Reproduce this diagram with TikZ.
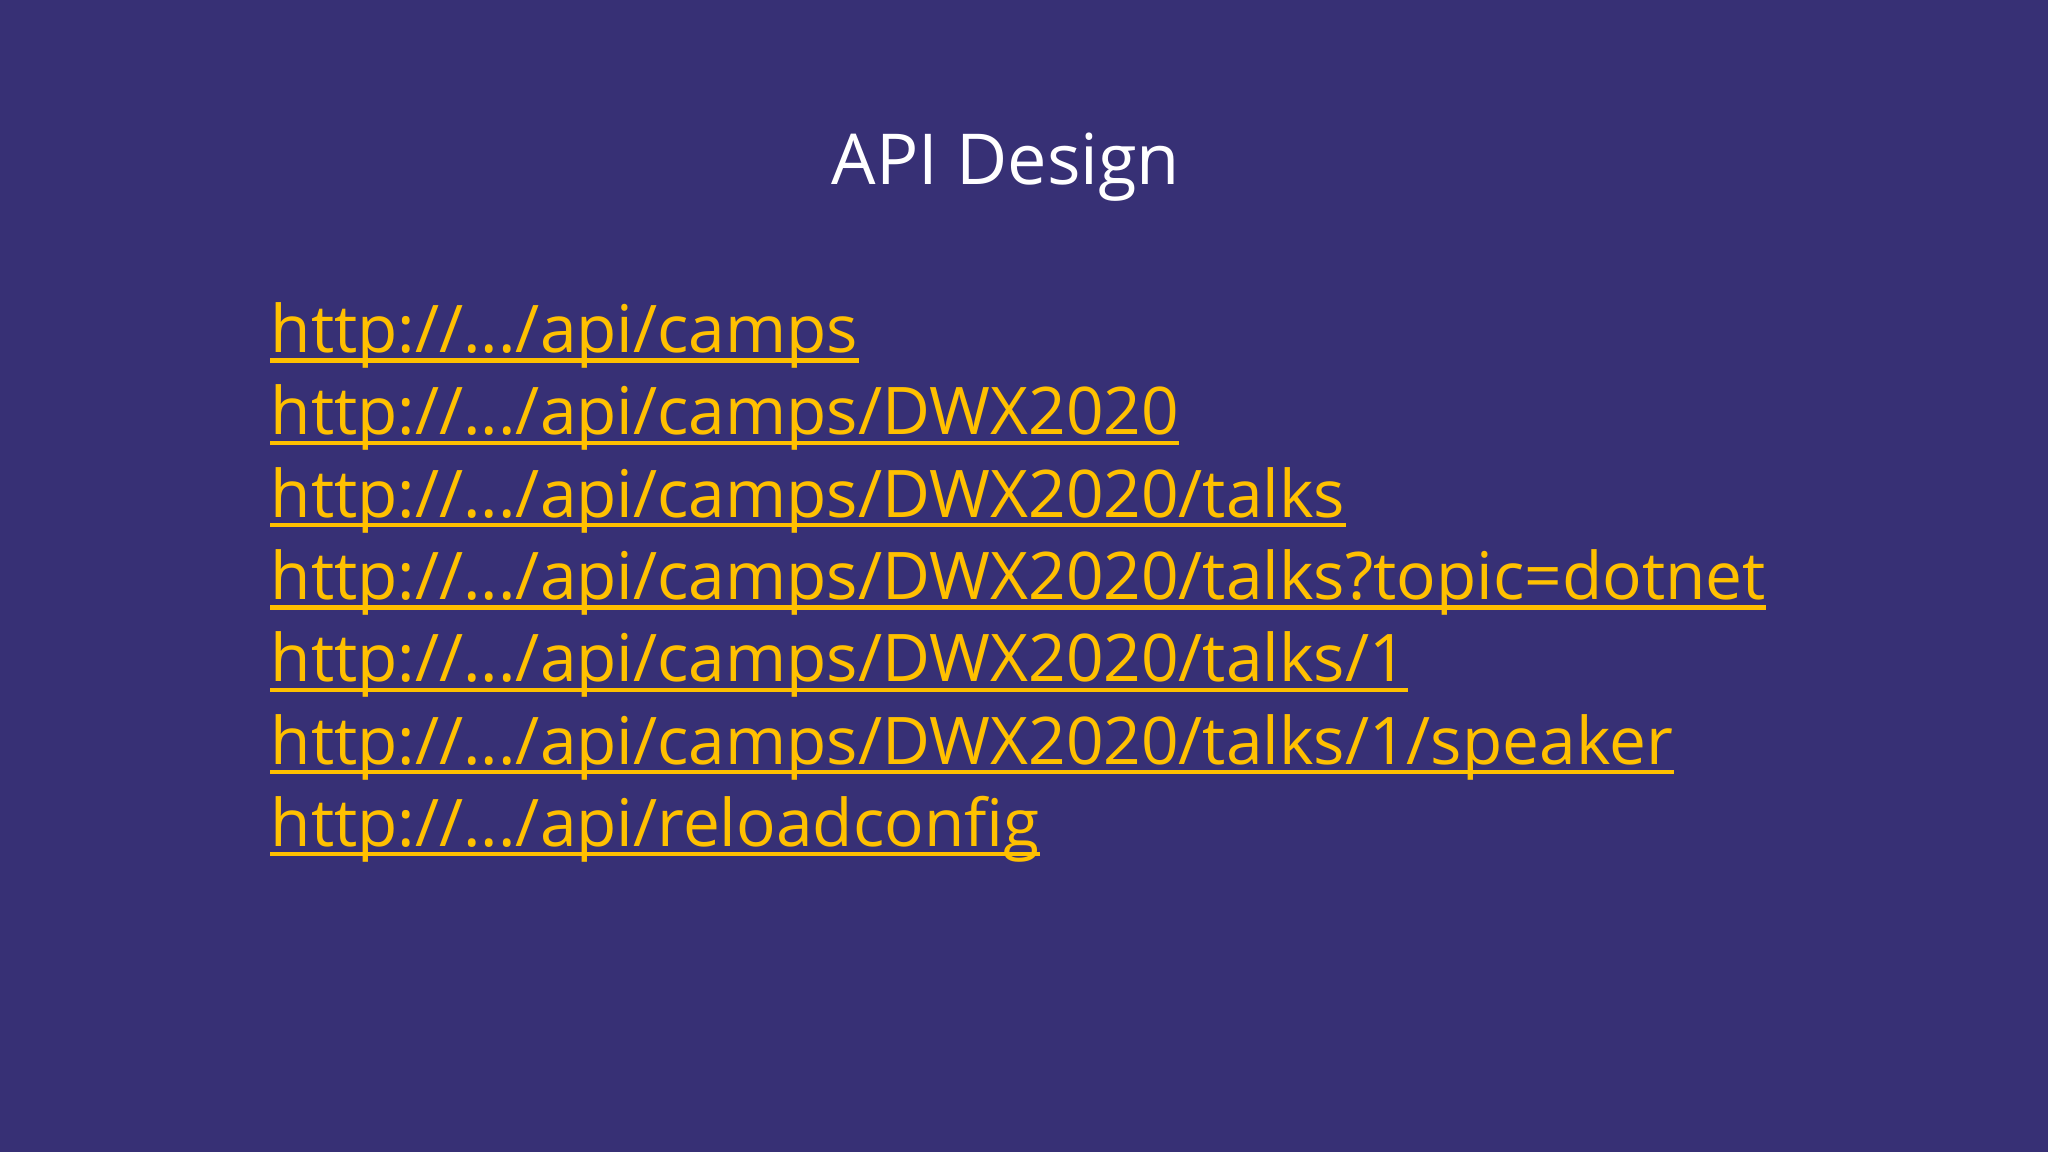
\documentclass[tikz,border=0pt]{standalone}
\usepackage{fontspec}
\setmainfont{Open Sans}
\definecolor{bg}{RGB}{55,48,117}
\definecolor{link}{RGB}{255,192,0}
\begin{document}
\begin{tikzpicture}[
  url/.style={anchor=base west,inner sep=0pt,text=link,font=\fontsize{18.7pt}{22pt}\selectfont},
  ul/.style={draw=link,line width=1.2pt}]
\fill[bg] (0,0) rectangle (20.48,-11.52);
\useasboundingbox (0,0) rectangle (20.48,-11.52);
\node[anchor=base,inner sep=0pt,text=white,font=\fontsize{20pt}{24pt}\selectfont] (title) at (10.06,-1.85) {API Design};
\foreach \i/\y/\t in {1/3.526/{http://.../api/camps},2/4.349/{http://.../api/camps/DWX2020},3/5.172/{http://.../api/camps/DWX2020/talks},4/5.995/{http://.../api/camps/DWX2020/talks?topic=dotnet},5/6.817/{http://.../api/camps/DWX2020/talks/1},6/7.64/{http://.../api/camps/DWX2020/talks/1/speaker},7/8.463/{http://.../api/reloadconfig}}{
  \node[url] (u\i) at (2.70,-\y) {\t};
  \draw[ul] ([yshift=-0.08cm]u\i.base west) -- ([yshift=-0.08cm]u\i.base east);
}
\end{tikzpicture}
\end{document}
